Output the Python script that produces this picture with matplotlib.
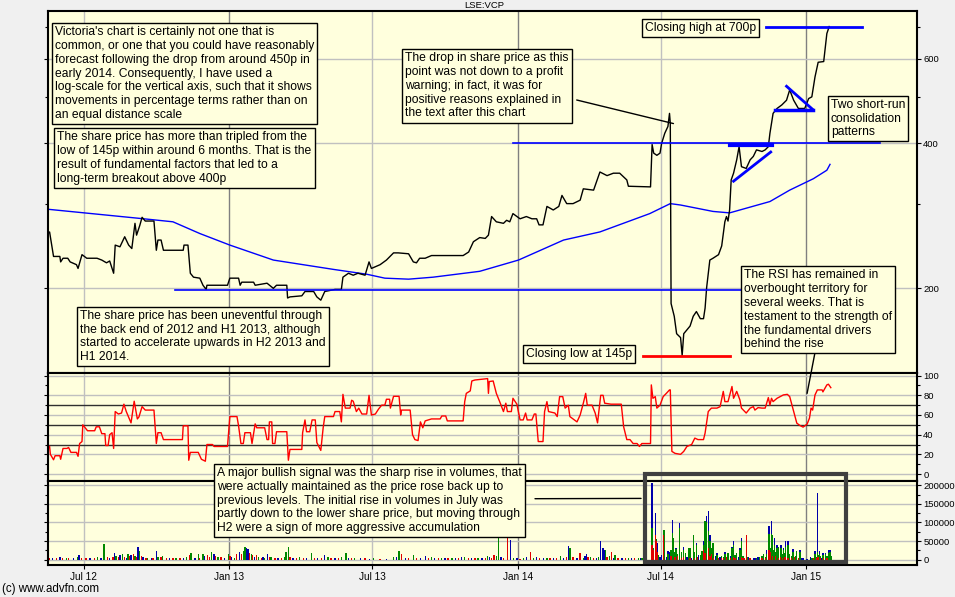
import matplotlib
matplotlib.use("Agg")
import matplotlib.pyplot as plt
from matplotlib.patches import Rectangle

plt.rcParams["font.family"] = ["Liberation Sans", "DejaVu Sans"]

# x values are calendar days counted from 17 May 2012
month_ticks = [45, 229, 410, 594, 775, 959]
month_labels = ["Jul 12", "Jan 13", "Jul 13", "Jan 14", "Jul 14", "Jan 15"]

# closing price (p)
price_pts = [
    (0, 260), (2, 262), (3, 256), (7, 233), (15, 233), (16, 227), (19, 231), (25, 231),
    (28, 227), (36, 224), (38, 220), (43, 235), (49, 231), (62, 231), (68, 229), (74, 226),
    (78, 228), (83, 215), (85, 246), (91, 244), (97, 256), (102, 246), (106, 242), (110, 273),
    (112, 258), (116, 270), (119, 281), (123, 276), (134, 276), (137, 240), (139, 252),
    (143, 252), (146, 240), (171, 240), (172, 246), (177, 246), (180, 215), (184, 211),
    (192, 210), (196, 203), (200, 199), (201, 203), (227, 203), (230, 210), (241, 210),
    (243, 203), (245, 206), (260, 206), (262, 203), (277, 205), (285, 200), (289, 203),
    (302, 203), (303, 191), (306, 192), (321, 193), (325, 197), (336, 197), (340, 192),
    (345, 189), (350, 197), (363, 199), (371, 199), (373, 211), (380, 215), (386, 213),
    (392, 215), (401, 213), (406, 227), (409, 220), (420, 224), (428, 229), (437, 237),
    (443, 237), (456, 236), (462, 227), (466, 226), (470, 231), (477, 231), (485, 234),
    (525, 234), (532, 238), (538, 250), (546, 255), (553, 254), (557, 258), (561, 282),
    (567, 275), (576, 273), (580, 277), (584, 275), (588, 286), (597, 279), (605, 282),
    (612, 279), (618, 279), (621, 271), (626, 271), (631, 296), (639, 291), (646, 296),
    (650, 312), (656, 300), (664, 300), (673, 305), (677, 322), (690, 320), (698, 349),
    (707, 343), (715, 347), (723, 347), (732, 336), (734, 326), (762, 325), (764, 398),
    (766, 382), (770, 378), (774, 382), (776, 400), (780, 420), (784, 434), (786, 462),
    (787, 441), (788, 186), (792, 175), (795, 161), (800, 158), (802, 145), (804, 161),
    (808, 164), (812, 167), (816, 175), (820, 179), (825, 173), (829, 173), (831, 182),
    (833, 201), (837, 229), (841, 231), (848, 235), (852, 245), (856, 275), (858, 282),
    (860, 276), (862, 291), (864, 336), (867, 347), (871, 370), (874, 394), (877, 358),
    (883, 355), (888, 370), (892, 376), (896, 388), (903, 385), (907, 388), (911, 394),
    (913, 420), (917, 462), (922, 473), (928, 481), (934, 492), (938, 517), (943, 492),
    (949, 473), (957, 473), (962, 496), (966, 500), (970, 550), (974, 590), (981, 592),
    (985, 677), (988, 700),
]

# long moving average (p)
ma_pts = [
    (0, 292), (121, 279), (158, 275), (192, 260), (230, 246), (285, 229), (361, 219),
    (403, 214), (426, 210), (456, 209), (487, 211), (546, 217), (595, 229), (652, 252),
    (698, 262), (761, 286), (787, 300), (800, 298), (841, 289), (862, 287), (913, 303),
    (938, 320), (968, 338), (985, 352), (989, 362),
]

rsi_pts = [
    (2, 28), (3, 20), (7, 14.5), (9, 18.6), (15, 18.6), (16, 15), (19, 26), (24, 26),
    (26, 27), (29, 22), (36, 22), (38, 18), (40, 31), (43, 33), (44, 50), (47, 47),
    (50, 44), (59, 44), (61, 48), (65, 48), (68, 41), (72, 41), (73, 29), (76, 29),
    (78, 40), (81, 42), (83, 26), (85, 63.5), (89, 61), (93, 62), (96, 71), (99, 63.5),
    (105, 52), (109, 74), (113, 56), (115, 58), (119, 68.5), (123, 65), (134, 65),
    (137, 31), (139, 42), (143, 42), (146, 35), (170, 35), (171, 49), (177, 49), (178, 14),
    (180, 22), (190, 22), (194, 15), (199, 13), (201, 30), (208, 30), (210, 28), (227, 28),
    (230, 58.4), (239, 58.4), (241, 49), (244, 31), (247, 31), (249, 42), (256, 42),
    (258, 31), (262, 51), (264, 47), (274, 47), (277, 35), (279, 35), (280, 53), (283, 53),
    (284, 31), (287, 31), (289, 43), (302, 43), (304, 14), (306, 25), (321, 25), (322, 42),
    (325, 55), (327, 43), (331, 43), (334, 55), (338, 55), (340, 32), (345, 24), (348, 47),
    (350, 58.4), (361, 58.4), (363, 63.5), (369, 63.5), (371, 53), (373, 81), (376, 67),
    (382, 67), (384, 75), (386, 74), (390, 63.5), (393, 67), (397, 61), (403, 61), (406, 80),
    (409, 60), (414, 61), (418, 66), (422, 70), (426, 70), (428, 76), (432, 76), (433, 67),
    (437, 79), (444, 79), (446, 60), (447, 65), (458, 65), (461, 40), (464, 35), (468, 34),
    (471, 53), (474, 47), (477, 54), (485, 56), (496, 56), (498, 59), (503, 59), (505, 54),
    (525, 54), (527, 73.6), (529, 82), (534, 84.5), (536, 94.6), (540, 95.6), (556, 97),
    (557, 82), (558, 94), (563, 94.6), (567, 82), (572, 72), (576, 63.5), (579, 72),
    (581, 63.5), (586, 63.5), (588, 77), (593, 71), (597, 55), (601, 55), (604, 62),
    (606, 55), (612, 55), (615, 61), (617, 61), (620, 33), (626, 33), (628, 63.5),
    (631, 73.6), (633, 63.5), (641, 62), (644, 58.4), (647, 78.7), (651, 78.7), (654, 67),
    (658, 70), (660, 58.4), (669, 53), (673, 60), (677, 72), (680, 82), (682, 70), (688, 70),
    (692, 62), (695, 52), (699, 80), (702, 80), (704, 72), (712, 71), (725, 71), (728, 48),
    (732, 35), (736, 35), (740, 31), (745, 31), (748, 28), (751, 31), (762, 31),
    (763, 90.6), (765, 77), (768, 78.7), (770, 67), (774, 70), (778, 78.7), (782, 82),
    (786, 85.5), (787, 85.5), (789, 23), (793, 21), (800, 20), (804, 23), (808, 28),
    (814, 30), (818, 36.5), (822, 35), (829, 35), (831, 41.6), (835, 63.5), (839, 67),
    (846, 67), (850, 68.5), (854, 84), (856, 73.6), (860, 73.6), (865, 89), (867, 77),
    (871, 84), (875, 75.4), (877, 67), (883, 62), (888, 67), (892, 68.5), (894, 65),
    (898, 67.5), (903, 67), (907, 67), (911, 77.7), (913, 70), (915, 77), (917, 73.6),
    (922, 77), (930, 80.4), (935, 81), (938, 78.7), (943, 63.5), (947, 51.7), (951, 49.3),
    (955, 47.7), (960, 50.7), (963, 56.8), (965, 67), (967, 65), (970, 80.4), (973, 85.5),
    (979, 85.5), (980, 83.5), (985, 90.6), (987, 91.3), (990, 87.8),
]

# quiet period volume, thousands of shares, single colour per day
vol_quiet = [
    (2, 3, "r"), (6, 5, "b"), (11, 4, "r"), (15, 6, "b"), (18, 3, "r"), (23, 4, "g"),
    (26, 5, "r"), (32, 3, "b"), (37, 8, "g"), (39, 12, "b"), (42, 3, "r"), (48, 4, "r"),
    (53, 3, "b"), (59, 5, "r"), (63, 6, "g"), (67, 4, "b"), (71, 43, "g"), (75, 6, "r"),
    (78, 3, "b"), (82, 8, "r"), (84, 18, "b"), (86, 10, "g"), (89, 8, "r"), (91, 12, "b"),
    (94, 16, "g"), (97, 6, "r"), (99, 5, "b"), (101, 16, "g"), (103, 10, "r"), (105, 12, "b"),
    (108, 14, "r"), (110, 10, "g"), (112, 8, "r"), (114, 34, "b"), (116, 22, "g"),
    (118, 10, "r"), (120, 6, "b"), (124, 4, "r"), (126, 5, "g"), (131, 3, "b"), (133, 5, "r"),
    (137, 23, "b"), (139, 6, "g"), (143, 8, "r"), (145, 10, "g"), (150, 4, "r"), (154, 5, "b"),
    (158, 3, "r"), (162, 4, "g"), (167, 5, "r"), (171, 4, "b"), (175, 6, "g"), (179, 12, "r"),
    (181, 18, "g"), (186, 5, "b"), (190, 16, "g"), (192, 5, "r"), (196, 15, "g"),
    (198, 10, "b"), (202, 12, "r"), (204, 8, "r"), (207, 20, "g"), (210, 15, "b"),
    (212, 10, "r"), (215, 8, "g"), (219, 6, "r"), (223, 4, "b"), (228, 14, "g"),
    (230, 10, "r"), (232, 8, "b"), (236, 5, "g"), (238, 14, "r"), (242, 20, "b"),
    (245, 15, "r"), (247, 22, "g"), (249, 34, "g"), (251, 32, "b"), (253, 28, "b"),
    (255, 18, "r"), (257, 15, "g"), (259, 12, "r"), (261, 8, "b"), (264, 12, "r"),
    (266, 6, "g"), (270, 4, "r"), (272, 6, "b"), (274, 5, "g"), (278, 14, "b"), (280, 8, "r"),
    (282, 6, "g"), (287, 4, "r"), (291, 3, "b"), (295, 5, "r"), (299, 8, "g"), (301, 20, "g"),
    (304, 33, "g"), (306, 6, "r"), (310, 4, "b"), (314, 5, "r"), (318, 6, "g"), (323, 3, "r"),
    (327, 5, "b"), (333, 18, "g"), (337, 4, "r"), (341, 3, "b"), (346, 5, "r"), (350, 12, "b"),
    (354, 6, "g"), (358, 3, "r"), (363, 5, "b"), (367, 4, "r"), (371, 6, "g"), (377, 18, "g"),
    (380, 4, "b"), (384, 3, "r"), (388, 5, "g"), (395, 3, "b"), (401, 3, "r"), (407, 2, "b"),
    (412, 3, "g"), (420, 2, "r"), (428, 2, "b"), (437, 6, "g"), (441, 8, "b"), (444, 23, "g"),
    (447, 16, "r"), (452, 5, "b"), (456, 3, "r"), (462, 12, "g"), (466, 4, "r"), (471, 3, "b"),
    (477, 10, "b"), (481, 4, "r"), (485, 6, "g"), (489, 4, "b"), (494, 3, "r"), (498, 4, "g"),
    (502, 5, "b"), (506, 3, "r"), (511, 3, "g"), (515, 4, "b"), (519, 3, "r"), (523, 8, "b"),
    (527, 6, "g"), (532, 4, "r"), (536, 5, "b"), (540, 3, "r"), (544, 4, "g"), (549, 5, "b"),
    (553, 4, "r"), (556, 10, "g"), (558, 6, "b"), (561, 4, "r"), (564, 12, "r"),
    (567, 10, "g"), (570, 60, "g"), (573, 8, "b"), (576, 5, "r"), (581, 69, "r"),
    (585, 52, "b"), (589, 4, "g"), (593, 3, "b"), (597, 2, "r"), (601, 4, "g"), (605, 6, "b"),
    (610, 20, "r"), (614, 5, "g"), (618, 6, "b"), (622, 4, "r"), (627, 5, "b"), (631, 4, "g"),
    (635, 3, "r"), (639, 5, "b"), (643, 4, "r"), (648, 10, "g"), (652, 5, "b"), (656, 6, "r"),
    (658, 37, "b"), (660, 32, "g"), (664, 6, "r"), (669, 4, "b"), (673, 18, "r"),
    (677, 5, "g"), (679, 10, "b"), (681, 14, "b"), (683, 8, "r"), (686, 6, "g"), (690, 4, "r"),
    (694, 5, "b"), (696, 6, "g"), (699, 50, "b"), (702, 30, "b"), (703, 25, "b"),
    (705, 27, "g"), (707, 8, "r"), (710, 10, "g"), (713, 20, "r"), (715, 5, "b"),
    (717, 12, "g"), (721, 4, "r"), (726, 3, "b"), (730, 3, "r"), (734, 4, "g"), (738, 3, "b"),
    (742, 3, "r"), (747, 4, "g"),
]

# busy period volume, thousands: (day, blue top, green top, red top)
vol_busy = [
    (749, 3, 0, 0), (751, 0, 3, 0), (753, 2, 0, 0), (764, 207, 85, 38), (766, 0, 30, 25),
    (768, 126, 0, 65), (769, 0, 55, 50), (771, 44, 0, 20), (772, 0, 13, 0), (774, 8, 0, 0),
    (776, 12, 0, 0), (778, 0, 70, 65), (779, 0, 80, 0), (782, 8, 0, 0), (784, 23, 15, 0),
    (786, 20, 0, 0), (788, 0, 25, 10), (790, 108, 71, 0), (791, 0, 58, 0), (793, 0, 20, 8),
    (794, 31, 28, 0), (796, 0, 15, 10), (799, 99, 85, 0), (801, 0, 20, 5), (804, 35, 26, 8),
    (806, 0, 18, 0), (808, 8, 0, 0), (810, 31, 30, 0), (812, 0, 30, 5), (814, 5, 0, 0),
    (816, 0, 67, 0), (818, 0, 20, 5), (820, 44, 40, 0), (821, 0, 0, 8), (823, 13, 0, 0),
    (825, 0, 12, 0), (827, 0, 22, 0), (829, 49, 40, 25), (831, 0, 103, 18),
    (833, 117, 100, 0), (835, 130, 76, 30), (837, 67, 50, 10), (839, 0, 30, 15),
    (841, 0, 44, 0), (842, 0, 15, 5), (844, 10, 0, 0), (846, 17, 12, 0), (848, 0, 0, 5),
    (850, 8, 0, 0), (852, 0, 10, 5), (854, 0, 6, 3), (856, 20, 15, 0), (858, 0, 0, 6),
    (860, 0, 17, 0), (863, 10, 0, 5), (865, 35, 30, 0), (867, 51, 40, 8), (869, 0, 12, 5),
    (871, 0, 17, 0), (873, 8, 0, 0), (875, 31, 25, 0), (877, 58, 50, 8), (879, 0, 10, 5),
    (881, 0, 0, 3), (883, 0, 0, 67), (884, 0, 8, 0), (886, 8, 0, 0), (888, 0, 0, 5),
    (892, 3, 0, 0), (894, 4, 0, 0), (896, 0, 4, 0), (898, 6, 0, 0), (900, 0, 8, 0),
    (903, 0, 10, 5), (905, 0, 15, 0), (907, 0, 8, 5), (909, 26, 15, 0), (911, 0, 55, 15),
    (912, 90, 70, 25), (914, 0, 30, 20), (915, 103, 70, 0), (916, 0, 65, 10), (917, 0, 25, 0),
    (919, 58, 40, 0), (920, 0, 20, 10), (922, 40, 30, 0), (924, 0, 35, 5), (926, 0, 20, 8),
    (927, 40, 30, 0), (929, 0, 15, 5), (930, 31, 25, 0), (932, 0, 18, 8), (933, 49, 35, 0),
    (936, 49, 40, 5), (938, 0, 15, 0), (940, 0, 10, 5), (942, 29, 20, 0), (944, 0, 0, 8),
    (946, 0, 10, 0), (947, 0, 22, 0), (949, 0, 0, 4), (951, 26, 20, 0), (953, 5, 0, 0),
    (955, 3, 0, 0), (960, 2, 0, 0), (964, 6, 0, 0), (966, 0, 3, 0), (968, 0, 0, 3),
    (970, 23, 15, 0), (972, 0, 8, 5), (973, 180, 20, 0), (974, 0, 12, 8), (976, 23, 15, 0),
    (977, 0, 10, 5), (978, 5, 0, 0), (980, 17, 12, 0), (981, 0, 0, 5), (983, 17, 15, 0),
    (985, 0, 10, 3), (987, 26, 18, 0), (989, 26, 20, 0), (991, 0, 10, 0),
]

# drawn-in levels: (start day, end day, price)
support_200 = (161, 877, 198)
breakout_400 = (588, 1052, 400)
closing_high = (908, 1030, 700)
closing_low = (752, 863, 145)
flag1_top = (862, 915, 398)
flag1_rise = [(867, 334), (914, 384)]
flag2_base = (919, 968, 469)
flag2_fall = [(934, 526), (967, 471)]

notes = [
    (51.7, 23.3, "Victoria's chart is certainly not one that is\n"
                 "common, or one that you could have reasonably\n"
                 "forecast following the drop from around 450p in\n"
                 "early 2014. Consequently, I have used a\n"
                 "log-scale for the vertical axis, such that it shows\n"
                 "movements in percentage terms rather than on\n"
                 "an equal distance scale"),
    (54.3, 128.3, "The share price has more than tripled from the\n"
                  "low of 145p within around 6 months. That is the\n"
                  "result of fundamental factors that led to a\n"
                  "long-term breakout above 400p"),
    (77.3, 306.7, "The share price has been uneventful through\n"
                  "the back end of 2012 and H1 2013, although\n"
                  "started to accelerate upwards in H2 2013 and\n"
                  "H1 2014."),
    (402.3, 49.3, "The drop in share price as this\n"
                  "point was not down to a profit\n"
                  "warning; in fact, it was for\n"
                  "positive reasons explained in\n"
                  "the text after this chart"),
    (641.7, 19.3, "Closing high at 700p"),
    (827.7, 95.7, "Two short-run\nconsolidation\npatterns"),
    (522.7, 345.0, "Closing low at 145p"),
    (741.0, 266.3, "The RSI has remained in\n"
                   "overbought territory for\n"
                   "several weeks. That is\n"
                   "testament to the strength of\n"
                   "the fundamental drivers\n"
                   "behind the rise"),
    (214.3, 464.0, "A major bullish signal was the sharp rise in volumes, that\n"
                   "were actually maintained as the price rose back up to\n"
                   "previous levels. The initial rise in volumes in July was\n"
                   "partly down to the lower share price, but moving through\n"
                   "H2 were a sign of more aggressive accumulation"),
]

W, H = 955, 597
BG = "#ffffdd"
FIGBG = "#f0f0f0"
LIGHT = "#c0c0c0"
DARK = "#808080"
RED, GREEN, BLUE = "#e00000", "#008800", "#0000aa"


def fx(px):
    return px / W


def fy(py):
    return 1 - py / H


fig = plt.figure(figsize=(W / 100, H / 100), dpi=100, facecolor=FIGBG)
left, width = fx(48), (917 - 48) / W
ax_p = fig.add_axes([left, fy(373), width, (373 - 11) / H])
ax_r = fig.add_axes([left, fy(481), width, (481 - 373) / H], sharex=ax_p)
ax_v = fig.add_axes([left, fy(565), width, (565 - 481) / H], sharex=ax_p)

for ax in (ax_p, ax_r, ax_v):
    ax.set_facecolor(BG)
    for s in ax.spines.values():
        s.set_linewidth(1.5)
    for t, lab in zip(month_ticks, month_labels):
        ax.axvline(t, color=DARK if lab.startswith("Jan") else LIGHT, lw=1, zorder=0)
    ax.yaxis.tick_right()
    ax.tick_params(axis="y", which="both", left=True, right=True, labelleft=False,
                   labelright=True, direction="out", labelsize=6.8, pad=1.5, width=0.8)
    ax.tick_params(axis="y", which="major", length=3)
    ax.tick_params(axis="y", which="minor", length=2)
ax_p.set_xlim(0, 1099)
ax_p.tick_params(axis="x", length=0, labelbottom=False)
ax_r.tick_params(axis="x", length=0, labelbottom=False)
ax_v.set_xticks(month_ticks)
ax_v.set_xticklabels(month_labels)
ax_v.tick_params(axis="x", length=3, labelsize=7.2, pad=2)

# ---- price panel
ax_p.set_yscale("log")
ax_p.set_ylim(133.4, 754)
ax_p.set_yticks([200, 400, 600])
ax_p.set_yticklabels(["200", "400", "600"])
ax_p.set_yticks([300, 500, 700], minor=True)
ax_p.set_yticklabels([], minor=True)
for lvl in (200, 400, 600):
    ax_p.axhline(lvl, color=LIGHT, lw=1, zorder=0)

ma_d, ma_v = zip(*ma_pts)
ax_p.plot(ma_d, ma_v, color="#0000ff", lw=1)
pd_, pv = zip(*price_pts)
ax_p.plot(pd_, pv, color="black", lw=1)

for x0, x1, v in (support_200, breakout_400):
    ax_p.plot([x0, x1], [v, v], color="#0000ff", lw=1.2)
ax_p.plot(closing_high[:2], [closing_high[2]] * 2, color="#0000ff", lw=2)
ax_p.plot(closing_low[:2], [closing_low[2]] * 2, color="#ff0000", lw=2)
ax_p.plot(flag1_top[:2], [flag1_top[2]] * 2, color="#0000ff", lw=3)
ax_p.plot(*zip(*flag1_rise), color="#0000ff", lw=2)
ax_p.plot(flag2_base[:2], [flag2_base[2]] * 2, color="#0000ff", lw=2.5)
ax_p.plot(*zip(*flag2_fall), color="#0000ff", lw=2)

# ---- RSI panel
ax_r.set_ylim(-7.1, 102.7)
ax_r.set_yticks(range(0, 101, 20))
ax_r.set_yticks(range(10, 100, 20), minor=True)
for lvl in range(0, 101, 20):
    ax_r.axhline(lvl, color=LIGHT, lw=1, zorder=0)
for lvl in (30, 50, 70):
    ax_r.axhline(lvl, color="#303030", lw=1, zorder=0)
rd, rv = zip(*rsi_pts)
ax_r.plot(rd, rv, color="#ff0000", lw=1)

# ---- volume panel (thousands)
ax_v.set_ylim(-14.7, 212)
ax_v.set_yticks(range(0, 201, 50))
ax_v.set_yticklabels([str(v * 1000) for v in range(0, 201, 50)])
ax_v.set_yticks(range(25, 200, 50), minor=True)
for lvl in range(0, 201, 50):
    ax_v.axhline(lvl, color=LIGHT, lw=1, zorder=0)
cmap = {"r": RED, "g": GREEN, "b": BLUE}
bw = 1.7
qd, qv, qc = zip(*vol_quiet)
ax_v.bar(qd, qv, width=bw, color=[cmap[c] for c in qc], linewidth=0)
bd, bb, bg, br = zip(*vol_busy)
ax_v.bar(bd, bb, width=bw, color=BLUE, linewidth=0)
ax_v.bar(bd, bg, width=bw, color=GREEN, linewidth=0)
ax_v.bar(bd, br, width=bw, color=RED, linewidth=0)
ax_v.add_patch(Rectangle((755, -7.3), 254, 237.3, fill=False, ec="#404040", lw=3,
                         clip_on=False, zorder=5))

# ---- connector lines
line_kw = dict(arrowstyle="-", color="black", lw=1, shrinkA=0, shrinkB=0)
ax_p.annotate("", xy=(791, 440), xytext=(fx(576.7), fy(100)),
              textcoords="figure fraction", arrowprops=line_kw)
ax_r.annotate("", xy=(960, 82), xytext=(fx(815), fy(352.5)),
              textcoords="figure fraction", arrowprops=line_kw, annotation_clip=False)
ax_v.annotate("", xy=(750, 165), xytext=(fx(535), fy(498.7)),
              textcoords="figure fraction", arrowprops=line_kw, annotation_clip=False)

# ---- text boxes
fs = 8.75
pad_px = 3
for bx, by, txt in notes:
    fig.text(fx(bx + pad_px), fy(by + pad_px), txt, ha="left", va="top", fontsize=fs,
             linespacing=1.2, zorder=10,
             bbox=dict(boxstyle="square,pad=%.2f" % (pad_px / (fs * 100 / 72)),
                       fc=BG, ec="black", lw=1))

fig.text(fx(484), fy(5), "LSE:VCP", ha="center", va="center", fontsize=6.8)
fig.text(fx(2), fy(589), "(c) www.advfn.com", ha="left", va="center", fontsize=8.3)

fig.savefig("out.png", dpi=100, facecolor=FIGBG)
